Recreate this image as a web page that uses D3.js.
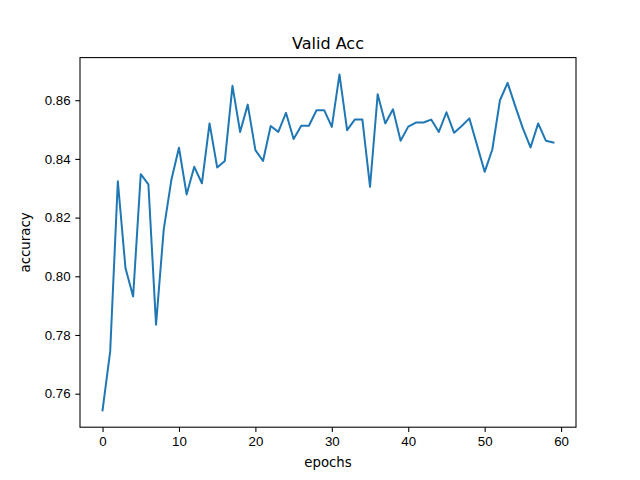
<!DOCTYPE html>
<html>
<head>
<meta charset="utf-8">
<script src="https://cdn.jsdelivr.net/npm/d3@7"></script>
<style>
  body { margin: 0; background: #fff; }
  svg { display: block; font-family: "DejaVu Sans", sans-serif; }
  .axis text { font-size: 13.3px; fill: #000; }
  .axis line, .axis path { stroke: #000; stroke-width: 1.07px; }
</style>
</head>
<body>
<svg id="chart" width="640" height="480"></svg>
<script>
// accuracy per epoch
const epochs = d3.range(0, 60);
const accuracy = [
  0.7543, 0.7744, 0.8324, 0.8028, 0.7931, 0.8348, 0.8313, 0.7835, 0.8158, 0.8328,
  0.8438, 0.8279, 0.8373, 0.8317, 0.8521, 0.8371, 0.8393, 0.8649, 0.8492, 0.8585,
  0.8430, 0.8393, 0.8512, 0.8492, 0.8557, 0.8468, 0.8513, 0.8513, 0.8566, 0.8566,
  0.8509, 0.8688, 0.8498, 0.8534, 0.8534, 0.8305, 0.8620, 0.8521, 0.8569, 0.8462,
  0.8510, 0.8524, 0.8524, 0.8534, 0.8492, 0.8559, 0.8489, 0.8512, 0.8538, 0.8447,
  0.8356, 0.8432, 0.8600, 0.8659, 0.8580, 0.8504, 0.8439, 0.8521, 0.8462, 0.8456
];
const xTicks = [0, 10, 20, 30, 40, 50, 60];
const yTicks = [0.76, 0.78, 0.80, 0.82, 0.84, 0.86];

const svg = d3.select('#chart');
const margin = {top: 57.6, left: 80};
const width = 496, height = 369.6;

const g = svg.append('g').attr('transform', `translate(${margin.left},${margin.top})`);

// matplotlib-style 5% padding around the data
const pad = (lo, hi) => { const m = (hi - lo) * 0.05; return [lo - m, hi + m]; };

const x = d3.scaleLinear().domain(pad(0, epochs.length - 1)).range([0, width]);
const y = d3.scaleLinear().domain(pad(d3.min(accuracy), d3.max(accuracy))).range([height, 0]);

// x-axis
g.append('g')
  .attr('class', 'axis')
  .attr('transform', `translate(0,${height})`)
  .call(d3.axisBottom(x).tickValues(xTicks).tickSize(4.7).tickPadding(4.7).tickSizeOuter(0))
  .call(a => a.select('.domain').remove());

// y-axis
g.append('g')
  .attr('class', 'axis')
  .call(d3.axisLeft(y).tickValues(yTicks).tickFormat(d3.format('.2f')).tickSize(4.7).tickPadding(4.7).tickSizeOuter(0))
  .call(a => a.select('.domain').remove());

// line
const line = d3.line().x((d, i) => x(epochs[i])).y(d => y(d));
g.append('path')
  .datum(accuracy)
  .attr('fill', 'none')
  .attr('stroke', '#1f77b4')
  .attr('stroke-width', 2)
  .attr('stroke-linejoin', 'round')
  .attr('stroke-linecap', 'square')
  .attr('d', line);

// frame
g.append('rect')
  .attr('width', width).attr('height', height)
  .attr('fill', 'none').attr('stroke', '#000').attr('stroke-width', 1.07);

// title and labels
svg.append('text')
  .attr('x', margin.left + width / 2).attr('y', 49)
  .attr('text-anchor', 'middle')
  .attr('font-size', '16px')
  .text('Valid Acc');

svg.append('text')
  .attr('x', margin.left + width / 2).attr('y', 466.5)
  .attr('text-anchor', 'middle')
  .attr('font-size', '13.3px')
  .text('epochs');

svg.append('text')
  .attr('transform', `translate(29.5,${margin.top + height / 2}) rotate(-90)`)
  .attr('text-anchor', 'middle')
  .attr('font-size', '13.3px')
  .text('accuracy');
</script>
</body>
</html>
